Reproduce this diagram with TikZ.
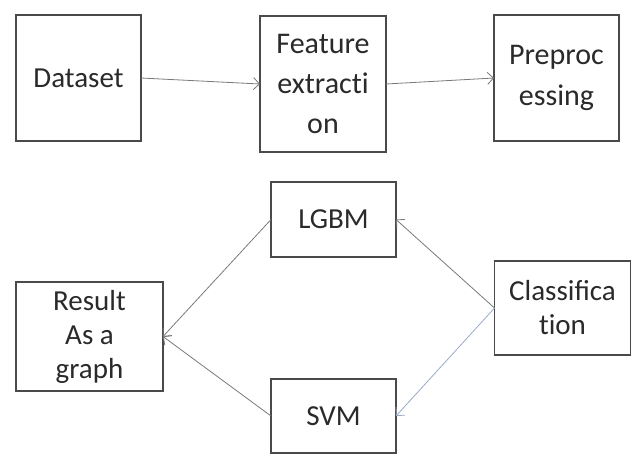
\documentclass[tikz,border=0pt]{standalone}
\usepackage{fontspec}
\setmainfont{Carlito}
\usetikzlibrary{arrows.meta}
\definecolor{boxline}{HTML}{4A4A4A}
\definecolor{txt}{HTML}{2A2A2A}
\definecolor{conn}{HTML}{7A7A7A}
\definecolor{connblue}{HTML}{9AAAC8}
% keep "t" and "i" as separate letters (no ti ligature)
\newcommand{\tisep}{t\kern0pt i}
\tikzset{
  stepbox/.style={draw=boxline, line width=1.3pt, rectangle, inner sep=0pt, outer sep=0pt,
    align=center, text=txt, font=\fontsize{29}{34}\selectfont},
  flow/.style={draw=conn, line width=0.8pt, -{Straight Barb[length=6pt,width=12pt,line width=0.8pt]}},
}
\begin{document}
\begin{tikzpicture}[x=1pt,y=-1pt]
\useasboundingbox[fill=white] (0,0) rectangle (632,456);

% top row
\node[stepbox, minimum width=125pt, minimum height=126pt] (dataset) at (78.5,78) {Dataset};
\node[stepbox, minimum width=126pt, minimum height=136pt, font=\fontsize{30}{40}\selectfont] (feature) at (323,84) {Feature\\extrac\tisep\\on};
\node[stepbox, minimum width=125pt, minimum height=126pt, font=\fontsize{30}{41}\selectfont] (preproc) at (556.5,78) {Preproc\\essing};

% bottom diamond
\node[stepbox, minimum width=125pt, minimum height=75pt] (lgbm) at (333.5,219.5) {LGBM};
\node[stepbox, minimum width=125pt, minimum height=74pt] (svm) at (333.5,416) {SVM};
\node[stepbox, minimum width=147pt, minimum height=109pt] (result) at (89.5,336.5) {Result\\As a\\graph};
\node[stepbox, minimum width=136pt, minimum height=94pt] (classif) at (562.5,308) {Classifica\\\tisep on};

% connectors
\draw[flow] (dataset.east) -- (feature.west);
\draw[flow] (feature.east) -- (preproc.west);
\draw[flow] (classif.west) -- (lgbm.east);
\draw[flow, draw=connblue] (classif.west) -- (svm.east);
\draw[flow] (lgbm.west) -- (result.east);
\draw[flow] (svm.west) -- (result.east);
\end{tikzpicture}
\end{document}
